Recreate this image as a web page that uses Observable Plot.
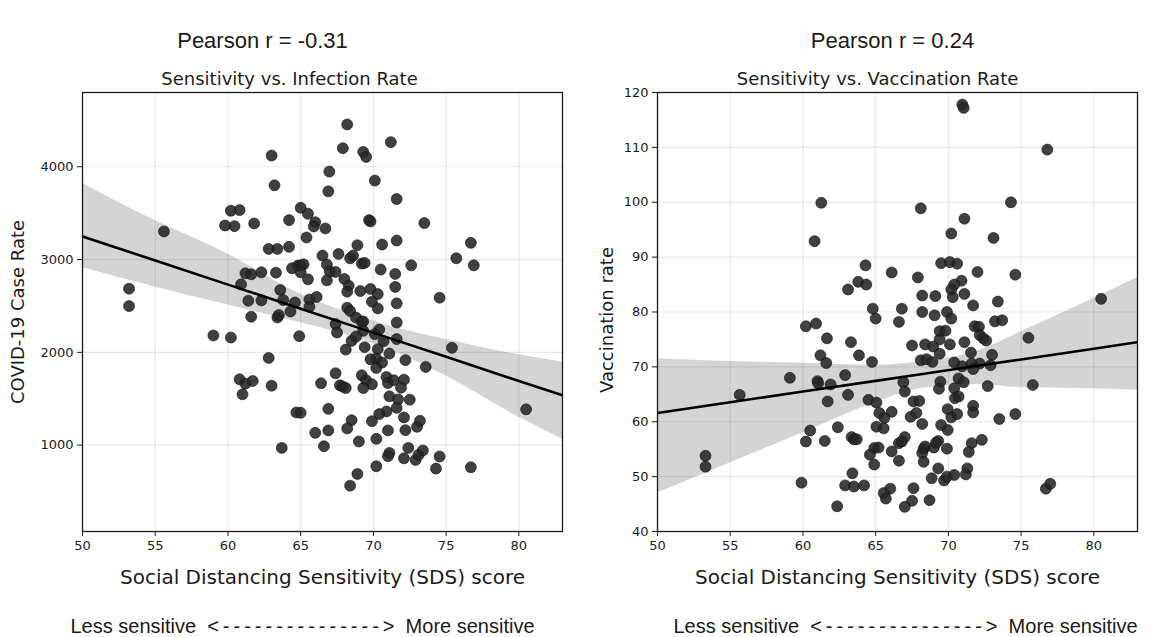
<!DOCTYPE html>
<html><head><meta charset="utf-8">
<script src="https://cdn.jsdelivr.net/npm/d3@7"></script>
<script src="https://cdn.jsdelivr.net/npm/@observablehq/plot@0.6"></script>
<style>
html,body{margin:0;padding:0;background:#fff;}
#wrap{position:relative;width:1154px;height:637px;overflow:hidden;background:#fff;}
#wrap svg{position:absolute;top:0;}
</style></head><body><div id="wrap"></div>
<script>
// Left panel: SDS score vs COVID-19 case rate
const sdsInfection = [63.0,63.2,60.2,60.8,59.8,60.45,61.8,64.2,65.0,65.5,66.0,65.9,65.4,66.5,55.6,62.8,63.4,64.2,64.8,65.0,65.2,64.4,65.0,65.5,61.2,61.6,62.3,63.3,60.9,63.6,63.8,64.6,64.3,61.4,62.3,61.6,63.4,63.5,65.6,66.1,65.6,64.9,59.0,60.2,53.2,53.2,62.8,60.8,61.2,61.7,61.0,63.0,64.7,65.0,66.0,63.7,66.4,
68.2,67.9,69.3,69.5,71.2,66.97,70.1,66.9,71.6,69.7,69.8,73.5,66.7,76.7,75.7,76.9,74.55,71.6,70.6,68.9,67.6,68.4,68.6,69.2,69.4,72.6,66.8,67.0,67.4,66.8,70.5,71.5,68.0,68.3,68.2,69.1,69.8,70.3,71.5,69.9,70.3,71.6,68.2,68.4,68.8,69.2,69.3,67.4,67.5,71.6,70.4,70.1,69.3,68.5,68.8,71.6,75.4,
73.6,72.2,70.7,71.1,70.3,70.2,70.6,70.2,69.8,69.4,68.1,67.4,67.7,67.9,68.1,69.2,69.5,69.9,69.3,70.9,71.0,71.4,72.1,71.9,71.1,71.7,72.5,71.6,70.9,70.4,69.9,68.5,68.2,66.9,66.9,66.6,69.0,70.2,71.0,72.1,72.2,73.0,73.2,72.4,71.1,71.0,72.1,72.9,73.1,73.4,74.55,74.3,76.7,70.2,68.9,68.4,80.5];
const caseRate = [4121,3800,3526,3533,3367,3360,3389,3425,3558,3494,3403,3357,3238,3043,3303,3115,3115,3137,2935,2935,2949,2906,2863,2787,2852,2841,2863,2859,2733,2672,2564,2538,2441,2557,2560,2384,2376,2402,2571,2597,2492,2175,2182,2160,2686,2499,1940,1710,1663,1692,1548,1641,1353,1349,1133,971,1667,
4456,4200,4160,4106,4265,3948,3851,3735,3652,3425,3411,3393,3335,3180,3014,2938,2589,3205,3162,3155,3061,3014,3043,2957,2964,2938,2946,2870,2867,2776,2892,2845,2791,2719,2654,2661,2683,2629,2705,2546,2474,2528,2481,2445,2376,2330,2333,2305,2214,2322,2246,2197,2232,2124,2171,2143,2049,
1843,1916,2121,1987,2034,1933,1890,1832,1926,2056,2030,1775,1645,1630,1616,1753,1700,1656,1616,1735,1670,1700,1706,1620,1526,1494,1490,1403,1364,1335,1259,1270,1180,1392,1159,989,1040,1068,1159,1299,1162,1198,1263,971,917,881,859,841,895,943,878,748,762,773,690,564,1386];

// Right panel: SDS score vs vaccination rate
const sdsVaccination = [61.26,60.8,64.3,66.1,63.8,64.35,63.1,64.8,65.0,66.6,66.8,60.2,60.9,61.65,63.3,70.96,71.05,76.8,74.3,68.1,71.1,70.2,73.1,69.5,70.1,70.6,67.9,72.0,74.6,70.9,70.4,70.2,71.1,70.3,68.2,69.1,73.4,80.5,71.7,68.2,69.05,69.9,70.2,73.2,73.7,71.8,72.1,69.4,69.8,72.15,72.4,72.6,69.4,70.1,71.1,75.5,
59.1,55.65,61.0,61.05,61.9,61.7,62.9,61.2,61.6,63.85,64.75,63.1,64.5,65.05,66.1,65.25,65.6,65.05,65.55,62.4,60.5,60.2,61.5,63.35,63.5,63.7,64.9,65.2,64.6,64.9,66.1,66.6,66.6,53.3,53.3,59.9,63.4,62.9,63.5,64.2,66.0,65.55,65.7,62.35,
75.8,74.6,73.5,72.7,73.0,72.9,72.15,71.6,71.55,69.4,67.5,68.4,68.95,68.1,68.5,68.9,70.4,70.95,71.7,70.7,71.05,69.45,69.35,66.9,67.0,70.4,70.45,70.7,67.6,68.0,67.4,67.8,68.2,69.95,70.2,70.6,71.7,71.7,69.5,69.95,67.0,66.8,68.3,68.4,68.2,68.3,69.0,69.3,69.15,69.9,71.6,72.3,71.4,69.3,68.85,69.7,69.9,70.4,71.3,71.2,67.6,67.5,67.0,68.7,76.7,77.0];
const vaccinationRate = [99.9,92.9,88.5,87.2,85.5,85.0,84.1,80.6,78.8,78.2,80.6,77.4,77.9,75.2,74.5,117.8,117.2,109.6,100.0,98.9,97.0,94.3,93.5,88.9,89.1,88.8,86.3,87.3,86.8,85.7,85.0,84.1,83.3,82.7,83.0,82.9,81.9,82.4,81.2,80.0,79.4,80.0,78.8,78.3,78.5,77.4,77.3,76.5,76.6,75.8,75.2,74.8,75.0,74.1,74.5,75.3,
68.0,64.9,67.4,67.0,66.8,63.7,68.5,72.1,70.7,72.1,70.9,64.9,64.0,63.5,61.8,61.6,60.7,59.1,58.8,59.0,58.4,56.4,56.5,57.2,56.8,56.8,55.2,55.3,54.0,52.2,54.6,56.1,52.9,53.8,51.8,48.9,50.6,48.4,48.2,48.4,47.8,47.0,46.0,44.6,
66.7,61.4,60.5,66.5,72.2,70.3,70.6,70.6,72.6,72.4,73.9,74.1,73.7,71.2,71.4,70.9,70.8,70.1,69.6,67.9,67.2,67.3,66.0,67.2,65.5,66.1,64.3,64.6,63.7,63.8,60.9,61.6,59.6,62.3,60.8,61.4,62.9,61.7,59.4,58.5,57.2,56.4,55.1,55.5,54.3,52.7,55.3,56.5,56.2,55.1,56.1,56.7,54.5,51.5,49.7,49.3,50.0,50.3,51.5,50.4,47.9,45.6,44.5,45.7,47.8,48.7];

// Regression line and its confidence band
const infectionFitSds   = [50, 55, 60, 65, 68, 71, 75, 80, 83];
const infectionFitLine  = [3249, 2990, 2730, 2471, 2315, 2159, 1952, 1692, 1537];
const infectionFitUpper = [3820, 3420, 3060, 2625, 2440, 2290, 2140, 1975, 1897];
const infectionFitLower = [2911, 2705, 2510, 2320, 2195, 2035, 1745, 1300, 1065];
const vaccinationFitSds   = [50, 55, 60, 65, 68, 72, 75, 80, 83];
const vaccinationFitLine  = [61.6, 63.55, 65.5, 67.45, 68.6, 70.2, 71.35, 73.3, 74.5];
const vaccinationFitUpper = [71.5, 71.0, 70.65, 70.3, 70.9, 72.9, 76.4, 82.5, 86.3];
const vaccinationFitLower = [47.0, 52.5, 58.0, 63.5, 66.0, 66.8, 66.2, 66.0, 65.7];

const xTicks = [50, 55, 60, 65, 70, 75, 80];
const caseTicks = [1000, 2000, 3000, 4000];
const vaccTicks = [40, 50, 60, 70, 80, 90, 100, 110, 120];
const pearsonTitles = ["Pearson r = -0.31", "Pearson r = 0.24"];
const panelTitles = ["Sensitivity vs. Infection Rate", "Sensitivity vs. Vaccination Rate"];
const yLabels = ["COVID-19 Case Rate", "Vaccination rate"];
const xLabel = "Social Distancing Sensitivity (SDS) score";
const dashes = Array(15).fill("-").join("\u2009");
const sensitivityNote = "Less sensitive\u00a0\u00a0<\u2009" + dashes + "\u2009>\u00a0\u00a0More sensitive";

const sans = "'Liberation Sans', Arial, sans-serif";
function panel(o) {
  const pts = o.xs.map((x, i) => ({x, y: o.ys[i]}));
  const reg = o.fitX.map((x, i) => ({x, y: o.fitY[i], lo: o.fitLo[i], hi: o.fitHi[i]}));
  return Plot.plot({
    width: 580, height: 637,
    marginLeft: 82, marginRight: 18, marginTop: 92, marginBottom: 106,
    x: {domain: [50, 83], label: null},
    y: {domain: o.yDomain, label: null},
    style: {fontFamily: "'DejaVu Sans', sans-serif", fontSize: "13px", color: "#1a1a1a", background: "transparent"},
    marks: [
      Plot.gridX(xTicks, {stroke: "#000", strokeOpacity: 0.09, strokeWidth: 1.2}),
      Plot.gridY(o.yTicks, {stroke: "#000", strokeOpacity: 0.09, strokeWidth: 1.2}),
      Plot.areaY(reg, {x: "x", y1: "lo", y2: "hi", fill: "#000", fillOpacity: 0.17, curve: "monotone-x", clip: true}),
      Plot.dot(pts, {x: "x", y: "y", r: 5.5, fill: "#262626", fillOpacity: 0.88, stroke: "#111", strokeWidth: 0.6}),
      Plot.line(reg, {x: "x", y: "y", stroke: "#000", strokeWidth: 2.6, clip: true}),
      Plot.frame({stroke: "#1a1a1a", strokeWidth: 1.3}),
      Plot.axisX(xTicks, {tickSize: 5, tickPadding: 4, label: null, fontSize: 13, tickFormat: d => String(d)}),
      Plot.axisY(o.yTicks, {tickSize: 5, tickPadding: 4, label: null, fontSize: 13, tickFormat: d => String(d)}),
      Plot.text([o.subtitle], {text: d => d, frameAnchor: "top", lineAnchor: "bottom", dy: -8, dx: o.subDx, fontSize: 18}),
      Plot.text([o.title], {text: d => d, frameAnchor: "top", lineAnchor: "middle", dy: -52, dx: o.titleDx, fontSize: 22, fontFamily: sans}),
      Plot.text([xLabel], {text: d => d, frameAnchor: "bottom", lineAnchor: "middle", dy: 46, fontSize: 20}),
      Plot.text([sensitivityNote], {text: d => d, frameAnchor: "bottom", lineAnchor: "middle", dy: 95, dx: o.noteDx, fontSize: 20, fontFamily: sans}),
      Plot.text([o.yLabel], {text: d => d, frameAnchor: "left", textAnchor: "middle", rotate: -90, dx: o.yLabelDx, dy: o.yLabelDy, lineAnchor: "middle", fontSize: 18})
    ]
  });
}

const wrap = document.getElementById("wrap");
const left = panel({xs: sdsInfection, ys: caseRate, yDomain: [70, 4800], yTicks: caseTicks,
  fitX: infectionFitSds, fitY: infectionFitLine, fitLo: infectionFitLower, fitHi: infectionFitUpper,
  title: pearsonTitles[0], subtitle: panelTitles[0], yLabel: yLabels[0], yLabelDx: -64, yLabelDy: 0,
  titleDx: -60, subDx: -33, noteDx: -20});
left.style.left = "0px";
const right = panel({xs: sdsVaccination, ys: vaccinationRate, yDomain: [40, 120], yTicks: vaccTicks,
  fitX: vaccinationFitSds, fitY: vaccinationFitLine, fitLo: vaccinationFitLower, fitHi: vaccinationFitUpper,
  title: pearsonTitles[1], subtitle: panelTitles[1], yLabel: yLabels[1], yLabelDx: -50, yLabelDy: 8,
  titleDx: -5, subDx: -20, noteDx: 8});
right.style.left = "575px";
wrap.appendChild(left);
wrap.appendChild(right);
</script></body></html>
